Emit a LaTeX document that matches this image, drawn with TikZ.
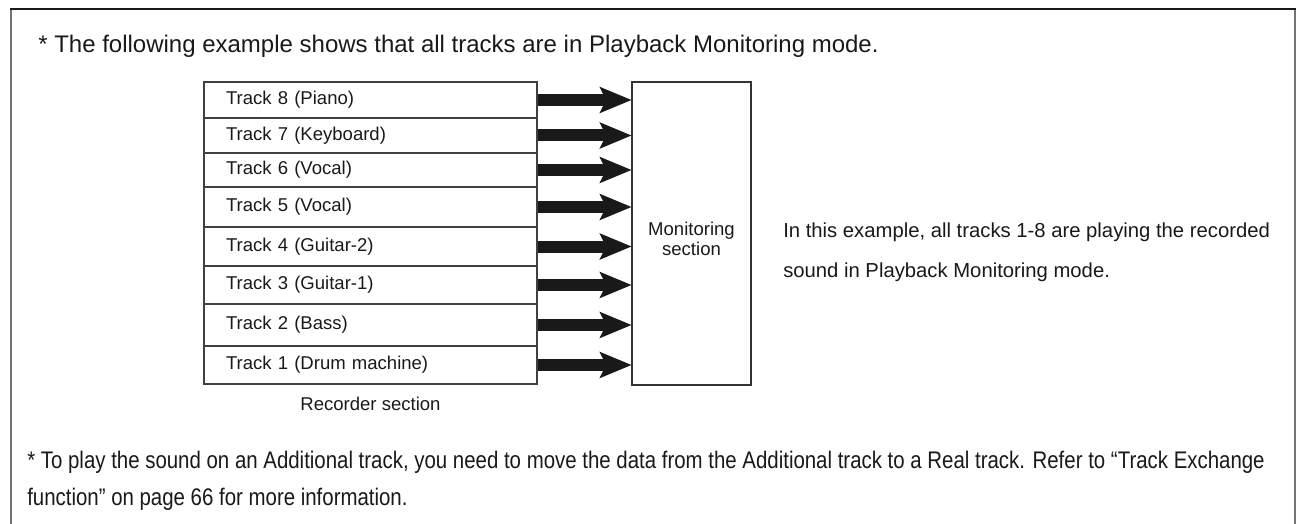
\documentclass[tikz,border=0pt]{standalone}
\usepackage{fontspec}
\setmainfont{Liberation Sans}
\usetikzlibrary{arrows.meta}
\begin{document}
\begin{tikzpicture}[x=0.75pt,y=-0.75pt,
  every node/.style={font=\fontsize{13.9pt}{16pt}\selectfont, text=black!90},
  bigtext/.style={font=\fontsize{18pt}{21pt}\selectfont},
  sidetext/.style={font=\fontsize{15.2pt}{18pt}\selectfont},
  trackbox/.style={draw=black!75, line width=0.9pt, minimum width=249.75pt,
    text width=216.75pt, inner xsep=16.5pt, inner ysep=0pt, align=left, anchor=center},
  monbox/.style={draw=black!80, line width=0.9pt, minimum width=89.25pt, minimum height=227.25pt},
  flow/.style={line width=9pt, black!90,
    -{Stealth[length=24pt, width=20pt, inset=5pt, line width=0pt]}},
  frameside/.style={draw=black!55, line width=1.5pt},
  frametop/.style={draw=black!90, line width=1.2pt}
]
\useasboundingbox (0,0) rectangle (1299,524);
% frame
\draw[frameside] (11,524) -- (11,9);
\draw[frameside] (1295,524) -- (1295,9);
\draw[frametop] (10.4,9) -- (1295.6,9);

\node[bigtext, anchor=base west, inner sep=0pt] (top) at (38,53)
  {* The following example shows that all tracks are in Playback Monitoring mode.};

% track rows
\node[trackbox, minimum height=27pt]    (r8) at (370.5,100)   {Track 8 (Piano)};
\node[trackbox, minimum height=26.25pt] (r7) at (370.5,135.5) {Track 7 (Keyboard)};
\node[trackbox, minimum height=25.5pt]  (r6) at (370.5,170)   {Track 6 (Vocal)};
\node[trackbox, minimum height=30pt]    (r5) at (370.5,207)   {Track 5 (Vocal)};
\node[trackbox, minimum height=29.25pt] (r4) at (370.5,246.5) {Track 4 (Guitar-2)};
\node[trackbox, minimum height=28.5pt]  (r3) at (370.5,285)   {Track 3 (Guitar-1)};
\node[trackbox, minimum height=31.5pt]  (r2) at (370.5,325)   {Track 2 (Bass)};
\node[trackbox, minimum height=28.5pt]  (r1) at (370.5,365)   {Track 1 (Drum machine)};

\node[anchor=base, inner sep=0pt] (rec) at (370.5,410) {Recorder section};

\node[monbox] (mon) at (691.5,233.5) {};
\node[align=center, inner sep=0pt] (montext) at (691.5,239) {Monitoring\\[-1pt]section};

\foreach \r in {r8,r7,r6,r5,r4,r3,r2,r1}
  \draw[flow] (\r.east) -- (\r.east -| mon.west);

\node[sidetext, anchor=base west, inner sep=0pt] (side1) at (783,238)
  {In this example, all tracks 1-8 are playing the recorded};
\node[sidetext, anchor=base west, inner sep=0pt] (side2) at (783,277)
  {sound in Playback Monitoring mode.};

\node[bigtext, anchor=base west, inner sep=0pt] (note1) at (27,468)
  {\scalebox{0.851}[1]{* To play the sound on an Additional track, you need to move the data from the Additional track to a Real track. Refer to ``Track Exchange}};
\node[bigtext, anchor=base west, inner sep=0pt] (note2) at (27,505)
  {\scalebox{0.851}[1]{function'' on page 66 for more information.}};
\end{tikzpicture}
\end{document}
